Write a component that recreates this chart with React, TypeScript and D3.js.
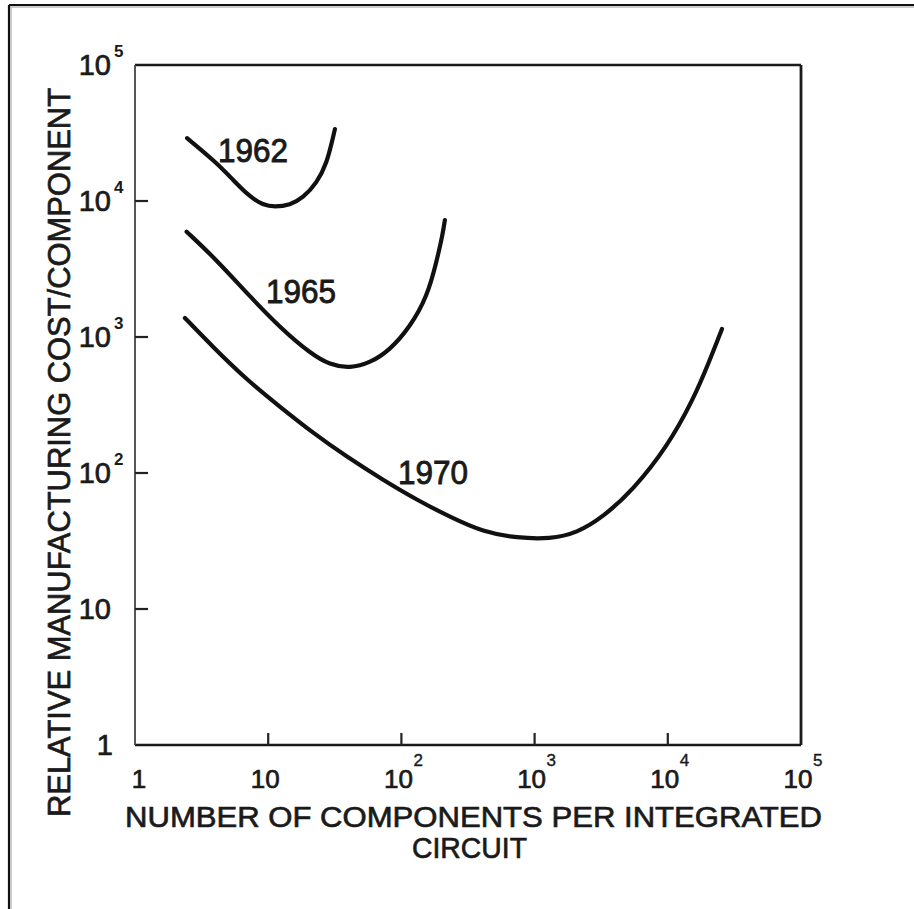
import React from "react";
import * as d3 from "d3";

const W = 914;
const H = 909;

// Tick values (log decades) and their exponent labels
const xTicks = [1, 10, 100, 1000, 10000, 100000];
const xTickExp = ["", "", "2", "3", "4", "5"];
const yTicks = [1, 10, 100, 1000, 10000, 100000];
const yTickExp = ["", "", "2", "3", "4", "5"];

// Curves (components per IC, relative cost per component)
const x1962 = [2.46, 4.13, 5.44, 7.3, 9.14, 11.2, 14.6, 18.2, 23.2, 27.6, 30.7, 31.7];
const y1962 = [29000, 19000, 14300, 10700, 9350, 9040, 9350, 10500, 13600, 19000, 29600, 33800];

const x1965 = [2.44, 4.11, 7.3, 12.9, 20.6, 29.1, 41.1, 58.1, 82.1, 116, 156, 185, 205, 212];
const y1965 = [5950, 3680, 1980, 1120, 763, 622, 590, 644, 802, 1185, 1970, 3680, 5820, 7250];

const x1970 = [2.37, 3.85, 6.93, 12.3, 21.7, 39.1, 72.8, 131, 232, 410, 738, 1306, 2080, 3265, 5480, 9860, 15500, 20700, 25500];
const y1970 = [1380, 844, 483, 306, 197, 131, 88.9, 63.3, 47.5, 36.8, 33.3, 32.7, 36.2, 47.5, 75, 155, 344, 678, 1145];

const seriesNames = ["1962", "1965", "1970"];
const labelX = [7.7, 17.6, 173];
const labelY = [23700, 2180, 102];

const xTitle1 = "NUMBER OF COMPONENTS PER INTEGRATED";
const xTitle2 = "CIRCUIT";
const yTitle = "RELATIVE MANUFACTURING COST/COMPONENT";

const FONT = "'Liberation Sans', Arial, sans-serif";
const INK = "#1a1a1a";

export default function App() {
  const left = 135, right = 801, top = 65, bottom = 745;
  const x = d3.scaleLog().domain([1, 1e5]).range([left, right]);
  const y = d3.scaleLog().domain([1, 1e5]).range([bottom, top]);

  const line = d3
    .line<[number, number]>()
    .x((d) => x(d[0]))
    .y((d) => y(d[1]))
    .curve(d3.curveBasis);

  const series = [
    d3.zip(x1962, y1962) as [number, number][],
    d3.zip(x1965, y1965) as [number, number][],
    d3.zip(x1970, y1970) as [number, number][],
  ];

  const thick = { stroke: INK, strokeWidth: 0.7 } as const;

  return (
    <svg
      width={W}
      height={H}
      viewBox={`0 0 ${W} ${H}`}
      style={{ position: "absolute", left: 0, top: 0, display: "block", background: "#fff" }}
      fontFamily={FONT}
    >
      <rect x={0} y={0} width={W} height={H} fill="#fff" />
      {/* outer frame */}
      <line x1={9} y1={5} x2={W} y2={5} stroke="#111" strokeWidth={2.2} />
      <line x1={9} y1={7} x2={W} y2={7} stroke="#bbb" strokeWidth={1.5} />
      <line x1={9} y1={5} x2={9} y2={H} stroke="#111" strokeWidth={2.2} />
      <line x1={11} y1={7} x2={11} y2={H} stroke="#bbb" strokeWidth={1.5} />

      {/* plot box */}
      <line x1={left} y1={top} x2={right} y2={top} stroke={INK} strokeWidth={2.6} />
      <line x1={right} y1={top} x2={right} y2={bottom} stroke={INK} strokeWidth={2.8} />
      <line x1={left} y1={bottom} x2={right} y2={bottom} stroke={INK} strokeWidth={2.6} />
      <line x1={left} y1={top} x2={left} y2={bottom} stroke="#444" strokeWidth={1.8} />

      {/* y ticks */}
      {yTicks.map((t, i) => {
        const py = y(t);
        const inner = i > 0 && i < yTicks.length - 1;
        const base = i === 0 ? "1" : "10";
        return (
          <g key={"yt" + i} fill={INK}>
            {inner && (
              <line x1={left} y1={py} x2={left + 13} y2={py} stroke="#222" strokeWidth={2.2} />
            )}
            <text x={i === 0 ? 113 : 111} y={py + 10} fontSize={29} textAnchor="end" {...thick}>
              {base}
            </text>
            {yTickExp[i] && (
              <text x={114} y={py - 8} fontSize={17} fontWeight="bold">
                {yTickExp[i]}
              </text>
            )}
          </g>
        );
      })}

      {/* x ticks */}
      {xTicks.map((t, i) => {
        const px = x(t);
        const inner = i > 0 && i < xTicks.length - 1;
        const base = i === 0 ? "1" : "10";
        const cx = i === 0 ? px + 4 : px - 3;
        return (
          <g key={"xt" + i} fill={INK}>
            {inner && (
              <line x1={px} y1={bottom} x2={px} y2={bottom - 12} stroke="#222" strokeWidth={2.2} />
            )}
            <text x={cx} y={788} fontSize={26} textAnchor="middle" {...thick}>
              {base}
            </text>
            {xTickExp[i] && (
              <text x={cx + 15} y={766} fontSize={17} {...thick} strokeWidth={0.4}>
                {xTickExp[i]}
              </text>
            )}
          </g>
        );
      })}

      {/* curves */}
      {series.map((s, i) => (
        <path
          key={"s" + i}
          d={line(s) || ""}
          fill="none"
          stroke="#111"
          strokeWidth={4.2}
          strokeLinecap="round"
          strokeLinejoin="round"
        />
      ))}

      {/* curve labels */}
      {seriesNames.map((n, i) => (
        <text
          key={"l" + i}
          x={x(labelX[i])}
          y={y(labelY[i]) + 12}
          fontSize={33}
          textAnchor="middle"
          fill={INK}
          {...thick}
          strokeWidth={0.9}
          textLength={70}
          lengthAdjust="spacingAndGlyphs"
        >
          {n}
        </text>
      ))}

      {/* axis titles */}
      <text
        x={125}
        y={827}
        fontSize={30}
        fill={INK}
        {...thick}
        textLength={697}
        lengthAdjust="spacingAndGlyphs"
      >
        {xTitle1}
      </text>
      <text
        x={412}
        y={858}
        fontSize={30}
        fill={INK}
        {...thick}
        textLength={115}
        lengthAdjust="spacingAndGlyphs"
      >
        {xTitle2}
      </text>
      <text
        transform="translate(70,817) rotate(-90)"
        x={0}
        y={0}
        fontSize={31}
        fill={INK}
        {...thick}
        textLength={729}
        lengthAdjust="spacingAndGlyphs"
      >
        {yTitle}
      </text>
    </svg>
  );
}
